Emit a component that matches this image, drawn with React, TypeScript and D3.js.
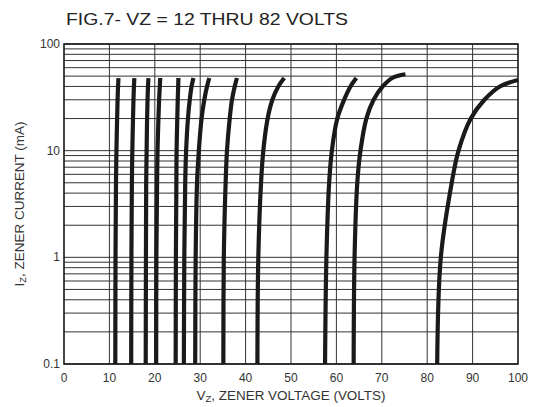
import React from "react";
import * as d3 from "d3";

// Zener current levels (mA) at which the voltage of each curve is read
const currents = [0.1, 1, 5, 10, 20, 30, 40, 48];
// Voltage (V) of each curve at those currents
const curve12V = [11.3, 11.35, 11.45, 11.55, 11.7, 11.8, 11.9, 12.0];
const curve15V = [14.8, 14.85, 14.95, 15.05, 15.2, 15.3, 15.4, 15.5];
const curve18V = [18.0, 18.05, 18.1, 18.2, 18.3, 18.4, 18.5, 18.6];
const curve20V = [20.3, 20.35, 20.5, 20.6, 20.8, 20.95, 21.1, 21.2];
const curve24V = [24.6, 24.65, 24.75, 24.8, 24.95, 25.05, 25.15, 25.2];
const curve27V = [26.4, 26.5, 26.7, 26.9, 27.3, 27.7, 28.1, 28.5];
const curve30V = [28.9, 29.0, 29.3, 29.7, 30.3, 30.9, 31.5, 32.0];
const curve36V = [35.1, 35.2, 35.6, 35.9, 36.5, 37.0, 37.6, 38.1];
const curve43V = [42.6, 42.8, 43.4, 43.9, 44.85, 45.9, 47.2, 48.5];
const curve62V = [57.5, 57.8, 58.4, 59.0, 60.2, 61.7, 63.1, 64.4];
// The 68 V and 82 V curves reach different top currents
const currents68 = [0.1, 1, 5, 10, 20, 30, 40, 48, 52];
const curve68V = [63.8, 64.0, 64.6, 65.3, 66.6, 68.2, 70.2, 72.3, 75.2];
const currents82 = [0.1, 1, 5, 10, 20, 30, 40, 46];
const curve82V = [82.2, 83.0, 85.4, 86.9, 89.6, 92.6, 96.0, 100];

const xTicks = [0, 10, 20, 30, 40, 50, 60, 70, 80, 90, 100];
const yTickLabels = [0.1, 1, 10, 100];

const series: { v: number[]; i: number[] }[] = [
  { v: curve12V, i: currents },
  { v: curve15V, i: currents },
  { v: curve18V, i: currents },
  { v: curve20V, i: currents },
  { v: curve24V, i: currents },
  { v: curve27V, i: currents },
  { v: curve30V, i: currents },
  { v: curve36V, i: currents },
  { v: curve43V, i: currents },
  { v: curve62V, i: currents },
  { v: curve68V, i: currents68 },
  { v: curve82V, i: currents82 },
];

export default function App() {
  const W = 537,
    H = 407;
  const left = 64,
    right = 518,
    top = 44,
    bottom = 364;
  const x = d3.scaleLinear().domain([0, 100]).range([left, right]);
  const y = d3.scaleLog().domain([0.1, 100]).range([bottom, top]);

  const hGrid: number[] = [];
  [0.1, 1, 10].forEach((d) => {
    for (let k = 1; k <= 9; k++) hGrid.push(d * k);
  });
  hGrid.push(100);

  const line = d3
    .line<[number, number]>()
    .x((d) => x(d[0]))
    .y((d) => y(d[1]))
    .curve(d3.curveCatmullRom.alpha(0.5));

  const font = "'Liberation Sans', Arial, sans-serif";

  return (
    <svg
      width={W}
      height={H}
      style={{ position: "absolute", left: 0, top: 0, background: "#fff" }}
      fontFamily={font}
    >
      <text
        x={66}
        y={25}
        fontSize={17}
        fill="#222"
        textLength={282}
        lengthAdjust="spacingAndGlyphs"
      >
        FIG.7- VZ = 12 THRU 82 VOLTS
      </text>
      {hGrid.map((g, k) => (
        <line
          key={"h" + k}
          x1={left}
          x2={right}
          y1={y(g)}
          y2={y(g)}
          stroke="#333"
          strokeWidth={1}
        />
      ))}
      {xTicks
        .filter((t) => t > 0 && t < 100)
        .map((t) => (
          <line
            key={"v" + t}
            x1={x(t)}
            x2={x(t)}
            y1={top}
            y2={bottom}
            stroke="#333"
            strokeWidth={1}
          />
        ))}
      <rect
        x={left}
        y={top}
        width={right - left}
        height={bottom - top}
        fill="none"
        stroke="#1a1a1a"
        strokeWidth={1.6}
      />
      {series.map((s, k) => (
        <path
          key={"c" + k}
          d={line(s.v.map((v, j) => [v, s.i[j]] as [number, number])) || ""}
          fill="none"
          stroke="#1a1a1a"
          strokeWidth={4.2}
        />
      ))}
      {yTickLabels.map((t) => (
        <text
          key={"yl" + t}
          x={left - 4}
          y={y(t) + 4}
          fontSize={12}
          textAnchor="end"
          fill="#333"
        >
          {t}
        </text>
      ))}
      {xTicks.map((t) => (
        <text
          key={"xl" + t}
          x={x(t)}
          y={382}
          fontSize={12}
          textAnchor="middle"
          fill="#333"
        >
          {t}
        </text>
      ))}
      <text
        x={(left + right) / 2}
        y={400}
        fontSize={12}
        textAnchor="middle"
        fill="#333"
        textLength={189}
        lengthAdjust="spacingAndGlyphs"
      >
        V<tspan fontSize={8.5} dy={2}>Z</tspan>
        <tspan dy={-2}>, ZENER VOLTAGE (VOLTS)</tspan>
      </text>
      <text
        transform={`translate(24, ${(top + bottom) / 2}) rotate(-90)`}
        fontSize={12}
        textAnchor="middle"
        fill="#333"
        textLength={165}
        lengthAdjust="spacingAndGlyphs"
      >
        I<tspan fontSize={8.5} dy={2}>Z</tspan>
        <tspan dy={-2}>, ZENER CURRENT (mA)</tspan>
      </text>
    </svg>
  );
}
